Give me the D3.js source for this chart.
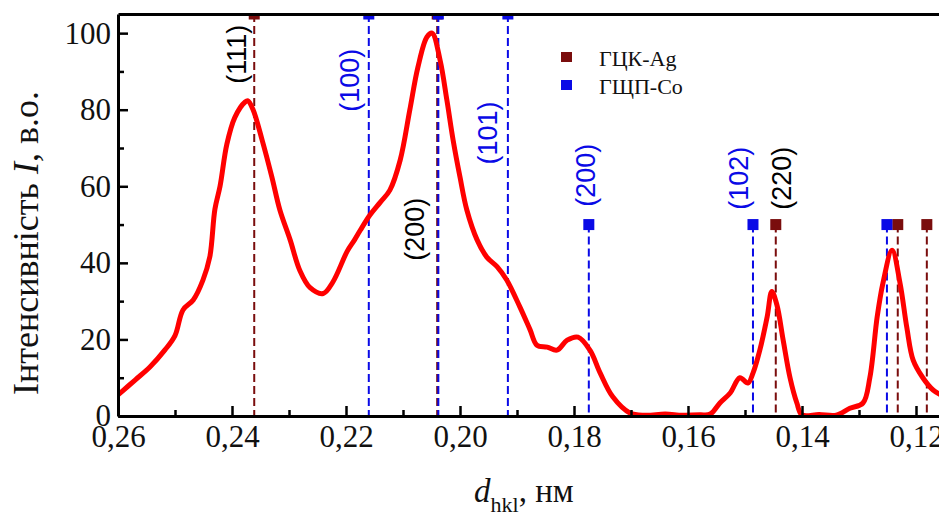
<!DOCTYPE html>
<html>
<head>
<meta charset="utf-8">
<script src="https://cdn.jsdelivr.net/npm/d3@7"></script>
<style>
  body { margin: 0; background: #fff; }
</style>
</head>
<body>
<svg id="vis" width="939" height="512"></svg>
<script>
// measured curve (d in nm, intensity in a.u.)
const dCurve = [0.2600, 0.2570, 0.2544, 0.2518, 0.2500, 0.2486, 0.2468, 0.2451, 0.2439, 0.2430,
    0.2421, 0.2409, 0.2395, 0.2377, 0.2372, 0.2363, 0.2347, 0.2330, 0.2316, 0.2298,
    0.2281, 0.2263, 0.2240, 0.2223, 0.2198, 0.2185, 0.2175, 0.2158, 0.2140, 0.2123,
    0.2105, 0.2088, 0.2074, 0.2058, 0.2049, 0.2035, 0.2023, 0.2012, 0.2000, 0.1988,
    0.1970, 0.1953, 0.1935, 0.1918, 0.1895, 0.1877, 0.1865, 0.1847, 0.1830, 0.1812,
    0.1793, 0.1772, 0.1754, 0.1732, 0.1702, 0.1675, 0.1640, 0.1610, 0.1579, 0.1561,
    0.1544, 0.1526, 0.1509, 0.1495, 0.1486, 0.1474, 0.1461, 0.1453, 0.1444, 0.1433,
    0.1421, 0.1409, 0.1400, 0.1370, 0.1340, 0.1316, 0.1293, 0.1281, 0.1268, 0.1258,
    0.1242, 0.1228, 0.1216, 0.1205, 0.1188, 0.1170, 0.1149];
const iCurve = [5.5, 9.4, 12.8, 17.2, 21.0, 27.7, 30.3, 35.5, 41.5, 54.0,
    60.0, 71.0, 78.0, 82.0, 82.3, 80.0, 72.0, 62.4, 53.8, 46.0,
    38.0, 33.5, 32.0, 35.0, 43.0, 46.0, 48.5, 52.5, 55.8, 59.0,
    66.8, 80.0, 91.0, 99.0, 100.0, 93.0, 82.5, 72.0, 62.4, 53.8,
    46.0, 41.5, 39.0, 35.5, 28.5, 22.5, 18.5, 18.0, 17.2, 19.8,
    20.6, 17.2, 11.2, 5.0, 0.8, 0.2, 0.5, 0.2, 0.3, 0.5,
    3.4, 6.0, 10.0, 8.6, 11.2, 17.2, 26.0, 32.5, 29.0, 19.8,
    10.0, 3.4, 0.3, 0.4, 0.2, 2.0, 3.4, 10.0, 26.0, 34.7,
    43.3, 34.7, 23.0, 14.6, 10.0, 6.8, 5.0];

// fcc Ag reflections
const dAg = [0.2361, 0.2040, 0.1446, 0.1232, 0.1181];
const hklAg = ['(111)', '(200)', '(220)', '', ''];
const markAg = [105, 105, 50, 50, 50];
const labelAgD = [0.2391, 0.2079, 0.1435, null, null];
const labelAgI = [94.5, 48.8, 62.1, null, null];

// hcp Co reflections
const dCo = [0.2160, 0.2038, 0.1916, 0.1774, 0.1486, 0.1251];
const hklCo = ['(100)', '', '(101)', '(200)', '(102)', ''];
const markCo = [105, 105, 105, 50, 50, 50];
const labelCoD = [0.2193, null, 0.1951, 0.1779, 0.1511, null];
const labelCoI = [87.7, null, 73.9, 62.9, 62.1, null];

const legendNames = ['ГЦК-Ag', 'ГЩП-Co'];
const xTicks = [0.26, 0.24, 0.22, 0.20, 0.18, 0.16, 0.14, 0.12];
const xMinor = [0.25, 0.23, 0.21, 0.19, 0.17, 0.15, 0.13];
const yTicks = [0, 20, 40, 60, 80, 100];
const yMinor = [10, 30, 50, 70, 90];

const colAg = '#7a0d0d';
const colCo = '#0a0ae6';

const margin = { top: 14, left: 118 };
const width = 855;
const height = 402;

const svg = d3.select('#vis');
const g = svg.append('g')
    .attr('transform', 'translate(' + margin.left + ', ' + margin.top + ')');

g.append('clipPath').attr('id', 'plotclip')
    .append('rect').attr('width', width).attr('height', height);

const x = d3.scaleLinear().domain([0.26, 0.11]).range([0, width]);
const y = d3.scaleLinear().domain([0, 105]).range([height, 0]);

const plot = g.append('g').attr('clip-path', 'url(#plotclip)');

function reflections(ds, marks, color) {
    const rows = ds.map((d, i) => ({ d: d, m: marks[i] }));
    plot.selectAll(null)
        .data(rows)
        .enter()
        .append('line')
        .attr('x1', (r) => x(r.d))
        .attr('x2', (r) => x(r.d))
        .attr('y1', (r) => y(r.m))
        .attr('y2', y(0))
        .attr('stroke', color)
        .attr('stroke-width', 2)
        .attr('stroke-dasharray', '8,4');
    plot.selectAll(null)
        .data(rows)
        .enter()
        .append('rect')
        .attr('x', (r) => x(r.d) - 5.5)
        .attr('y', (r) => y(r.m) - 5.5)
        .attr('width', 11)
        .attr('height', 11)
        .attr('fill', color);
}
reflections(dAg, markAg, colAg);
reflections(dCo, markCo, colCo);

const curve = d3.line()
    .x((d, i) => x(dCurve[i]))
    .y((d, i) => y(iCurve[i]))
    .curve(d3.curveCatmullRom.alpha(0.5));

plot.append('path')
    .attr('d', curve(iCurve))
    .attr('fill', 'none')
    .attr('stroke', '#ff0000')
    .attr('stroke-width', 5)
    .attr('stroke-linejoin', 'round');

function hklLabels(names, ds, is, color) {
    const rows = names.map((n, i) => ({ n: n, d: ds[i], v: is[i] })).filter((r) => r.n !== '');
    g.selectAll(null)
        .data(rows)
        .enter()
        .append('text')
        .attr('transform', (r) => 'translate(' + x(r.d) + ', ' + y(r.v) + ') rotate(-90)')
        .attr('text-anchor', 'middle')
        .attr('dominant-baseline', 'central')
        .attr('font-family', 'Liberation Sans, Arial, sans-serif')
        .attr('font-size', '27px')
        .attr('fill', color)
        .text((r) => r.n);
}
hklLabels(hklAg, labelAgD, labelAgI, '#000');
hklLabels(hklCo, labelCoD, labelCoI, colCo);

// axes
const fmt = (v) => d3.format('.2f')(v).replace('.', ',');

const xAxis = g.append('g')
    .attr('transform', 'translate(0, ' + height + ')')
    .call(d3.axisBottom(x).tickValues(xTicks).tickFormat(fmt).tickSizeInner(-10).tickSizeOuter(0).tickPadding(9));
g.append('g')
    .attr('transform', 'translate(0, ' + height + ')')
    .call(d3.axisBottom(x).tickValues(xMinor).tickFormat('').tickSizeInner(-6).tickSizeOuter(0))
    .select('.domain').remove();

const yAxis = g.append('g')
    .call(d3.axisLeft(y).tickValues(yTicks).tickSizeInner(-10).tickSizeOuter(0).tickPadding(7));
g.append('g')
    .call(d3.axisLeft(y).tickValues(yMinor).tickFormat('').tickSizeInner(-6).tickSizeOuter(0))
    .select('.domain').remove();

g.append('g')
    .call(d3.axisTop(x).tickValues([]).tickSizeOuter(0));

g.selectAll('.domain').attr('stroke-width', 3);
g.selectAll('.tick line').attr('stroke-width', 2.5);
g.selectAll('.tick text')
    .attr('font-family', 'Liberation Serif, Times New Roman, serif')
    .attr('font-size', '31px')
    .attr('fill', '#111');

// legend
const legend = g.append('g');
[colAg, colCo].forEach((c, i) => {
    legend.append('rect')
        .attr('x', 443).attr('y', 38 + i * 28)
        .attr('width', 11).attr('height', 10)
        .attr('fill', c);
    legend.append('text')
        .attr('x', 481).attr('y', 52 + i * 28)
        .attr('font-family', 'Liberation Serif, Times New Roman, serif')
        .attr('font-size', '22px')
        .attr('fill', '#111')
        .text(legendNames[i]);
});

// axis titles
svg.append('text')
    .attr('transform', 'translate(38, 243) rotate(-90)')
    .attr('text-anchor', 'middle')
    .attr('font-family', 'Liberation Serif, Times New Roman, serif')
    .attr('font-size', '36px')
    .attr('fill', '#111')
    .call((t) => {
        t.append('tspan').text('Інтенсивність ');
        t.append('tspan').attr('font-style', 'italic').text('I');
        t.append('tspan').text(', в.о.');
    });

svg.append('text')
    .attr('x', 474)
    .attr('y', 502)
    .attr('font-family', 'Liberation Serif, Times New Roman, serif')
    .attr('font-size', '33px')
    .attr('fill', '#111')
    .call((t) => {
        t.append('tspan').attr('font-style', 'italic').text('d');
        t.append('tspan').attr('font-size', '22px').attr('dy', 10).text('hkl');
        t.append('tspan').attr('dy', -10).text(', нм');
    });
</script>
</body>
</html>
